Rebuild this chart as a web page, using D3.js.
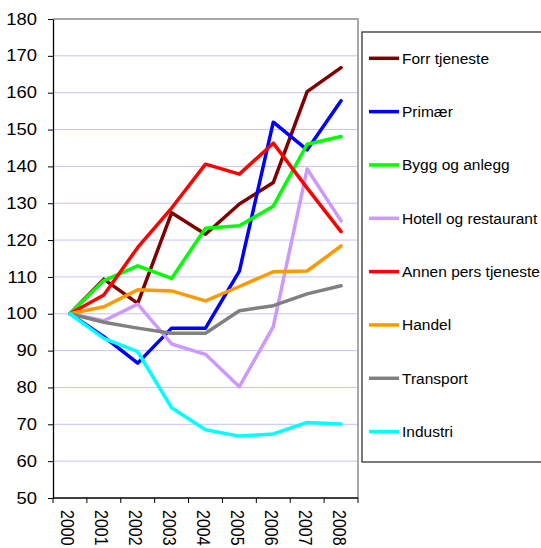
<!DOCTYPE html>
<html>
<head>
<meta charset="utf-8">
<script src="https://cdn.jsdelivr.net/npm/d3@7"></script>
<style>
  body { margin: 0; background: #fff; }
  svg { display: block; font-family: "Liberation Sans", Arial, sans-serif; }
</style>
</head>
<body>
<svg id="chart" width="541" height="548"></svg>
<script>
// data (index, 2000 = 100)
const years = ["2000", "2001", "2002", "2003", "2004", "2005", "2006", "2007", "2008"];
const yTicks = [50, 60, 70, 80, 90, 100, 110, 120, 130, 140, 150, 160, 170, 180];

const forrTjeneste = [100, 109.4, 102.8, 127.4, 121.6, 129.8, 135.6, 160.3, 166.8];
const primaer      = [100, 93.8, 86.6, 96.1, 96.1, 111.6, 152.0, 144.5, 157.8];
const byggAnlegg   = [100, 109.0, 113.0, 109.6, 123.2, 123.9, 129.2, 146.0, 148.1];
const hotellRest   = [100, 98.1, 102.6, 91.8, 89.0, 80.2, 96.5, 139.3, 125.2];
const annenPers    = [100, 105.1, 118.0, 128.7, 140.6, 137.9, 146.3, 134.1, 122.3];
const handel       = [100, 101.9, 106.5, 106.2, 103.5, 107.4, 111.4, 111.6, 118.4];
const transport    = [100, 97.7, 96.1, 94.7, 94.7, 100.8, 102.2, 105.4, 107.6];
const industri     = [100, 93.3, 89.7, 74.5, 68.5, 66.8, 67.4, 70.5, 70.1];

const seriesNames  = ["Forr tjeneste", "Primær", "Bygg og anlegg", "Hotell og restaurant",
                      "Annen pers tjeneste", "Handel", "Transport", "Industri"];
const seriesValues = [forrTjeneste, primaer, byggAnlegg, hotellRest, annenPers, handel, transport, industri];
const seriesColors = ["#800000", "#0000ff", "#00ff00", "#cc99ff", "#ff0000", "#ff9900", "#808080", "#00ffff"];

const series = seriesNames.map((name, i) => ({ name: name, values: seriesValues[i], color: seriesColors[i] }));

const plot = { left: 53, right: 358, top: 19, bottom: 498 };
const stretch = 1.15; // the picture's text is a little wide

const svg = d3.select("#chart");

const x = d3.scaleBand().domain(years).range([plot.left, plot.right]);
const y = d3.scaleLinear().domain([50, 180]).range([plot.bottom, plot.top]);

// gridlines
svg.append("g")
  .attr("class", "grid")
  .selectAll("line")
  .data(yTicks.filter(d => d > 50 && d < 180))
  .enter().append("line")
    .attr("x1", plot.left)
    .attr("x2", plot.right)
    .attr("y1", d => y(d))
    .attr("y2", d => y(d))
    .attr("stroke", "#c4c4fa")
    .attr("stroke-width", 1);

// plot border (top + right)
svg.append("path")
  .attr("d", `M${plot.left},${y(180)}H${plot.right}V${plot.bottom}`)
  .attr("fill", "none")
  .attr("stroke", "#a8a8a8")
  .attr("stroke-width", 2);

// y axis
const yAxis = svg.append("g")
  .attr("transform", `translate(${plot.left},0)`)
  .call(d3.axisLeft(y).tickValues(yTicks).tickSize(5).tickPadding(9).tickSizeOuter(0));

yAxis.select(".domain").attr("stroke", "#000").attr("stroke-width", 1.3);
yAxis.selectAll(".tick line").attr("stroke", "#000");
yAxis.selectAll(".tick text")
  .attr("font-size", 16)
  .attr("font-family", "Liberation Sans, Arial, sans-serif")
  .attr("fill", "#000")
  .attr("transform", `scale(${stretch},1)`);

// x axis: ticks sit between the categories
const xAxis = svg.append("g").attr("class", "x-axis");

xAxis.append("line")
  .attr("x1", plot.left)
  .attr("x2", plot.right)
  .attr("y1", plot.bottom)
  .attr("y2", plot.bottom)
  .attr("stroke", "#000")
  .attr("stroke-width", 1.3);

xAxis.selectAll("line.tick")
  .data(years.concat(["end"]))
  .enter().append("line")
    .attr("class", "tick")
    .attr("x1", (d) => d === "end" ? plot.right : x(d))
    .attr("x2", (d) => d === "end" ? plot.right : x(d))
    .attr("y1", plot.bottom)
    .attr("y2", plot.bottom + 5)
    .attr("stroke", "#000");

xAxis.selectAll("text")
  .data(years)
  .enter().append("text")
    .attr("transform", (d) => `translate(${x(d) + x.bandwidth() / 2 - 2},${plot.bottom + 12}) scale(${stretch},1) rotate(90)`)
    .attr("dy", "0.35em")
    .attr("font-size", 16)
    .attr("fill", "#000")
    .text(d => d);

// lines
const line = d3.line()
  .x((d, i) => x(years[i]) + x.bandwidth() / 2)
  .y(d => y(d));

svg.append("g")
  .attr("class", "lines")
  .selectAll("path")
  .data(series)
  .enter().append("path")
    .attr("d", d => line(d.values))
    .attr("fill", "none")
    .attr("stroke", d => d.color)
    .attr("stroke-width", 3.5)
    .attr("stroke-linejoin", "round")
    .attr("stroke-linecap", "round");

// legend
const legend = svg.append("g").attr("class", "legend");

legend.append("rect")
  .attr("x", 362)
  .attr("y", 32)
  .attr("width", 220)
  .attr("height", 430)
  .attr("fill", "#fff")
  .attr("stroke", "#333")
  .attr("stroke-width", 1.3);

const item = legend.selectAll("g.item")
  .data(series)
  .enter().append("g")
    .attr("class", "item")
    .attr("transform", (d, i) => `translate(0,${58.3 + i * 53.33})`);

item.append("line")
  .attr("x1", 369)
  .attr("x2", 399)
  .attr("stroke", d => d.color)
  .attr("stroke-width", 3.5);

item.append("text")
  .attr("x", 402)
  .attr("dy", "0.35em")
  .attr("font-size", 15.5)
  .attr("fill", "#000")
  .text(d => d.name);
</script>
</body>
</html>
